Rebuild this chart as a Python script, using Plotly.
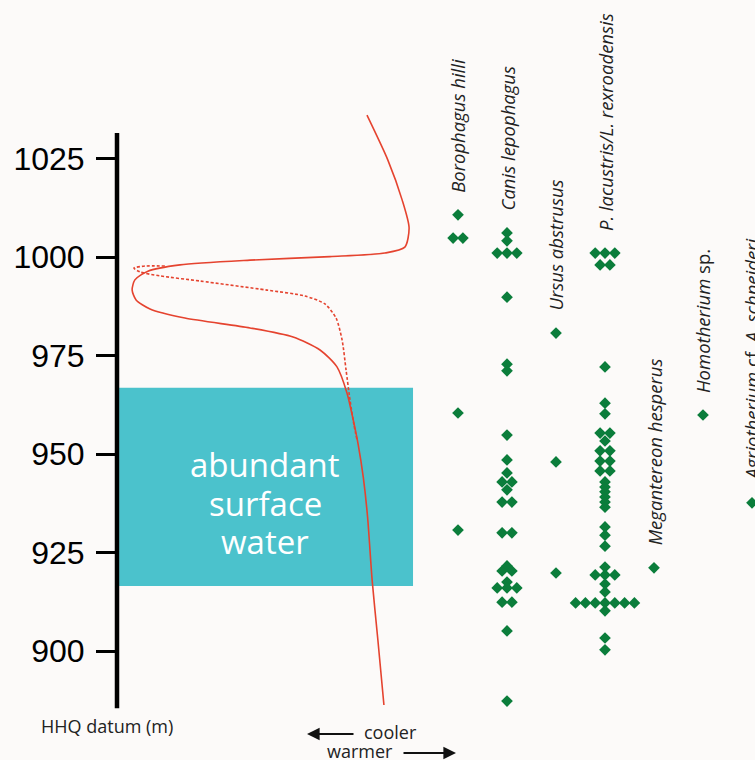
import plotly.graph_objects as go
from collections import Counter

# ---------------- data ----------------
ELEV_TICKS = [900, 925, 950, 975, 1000, 1025]
AXIS_BOTTOM, AXIS_TOP = 885.5, 1031.5
WATER_TOP, WATER_BOTTOM = 966.8, 916.5

SPECIES = [
    "<i>Borophagus hilli</i>",
    "<i>Canis lepophagus</i>",
    "<i>Ursus abstrusus</i>",
    "<i>P. lacustris/L. rexroadensis</i>",
    "<i>Megantereon hesperus</i>",
    "<i>Homotherium</i> sp.",
    "<i>Agriotherium</i> cf. <i>A. schneideri</i>",
]

BOROPHAGUS = [1010.7, 1004.8, 1004.8, 960.4, 930.7]
CANIS = [1006.1, 1004.1, 1001.0, 1001.0, 1001.0, 989.8, 972.8, 971.1, 954.8,
         948.5, 945.2, 942.9, 942.9, 940.9, 937.8, 937.8, 930.0, 930.0,
         921.6, 920.3, 920.3, 917.5, 916.0, 916.0, 916.0, 912.4, 912.4,
         905.1, 887.3]
URSUS = [980.7, 948.0, 919.8]
PLACUSTRIS = [1001.0, 1001.0, 1001.0, 998.0, 998.0, 972.1, 962.9, 960.2,
              955.3, 955.3, 953.3, 950.8, 950.8, 948.2, 948.2, 945.7, 945.7,
              942.9, 941.6, 940.4, 939.1, 937.8, 936.5, 931.5, 929.4, 926.6,
              921.3, 919.3, 919.3, 919.3, 917.0, 915.0,
              912.2, 912.2, 912.2, 912.2, 912.2, 912.2, 912.2,
              910.2, 903.3, 900.3]
MEGANTEREON = [921.1]
HOMOTHERIUM = [959.9]
AGRIOTHERIUM = [937.6]
OCCURRENCES = [BOROPHAGUS, CANIS, URSUS, PLACUSTRIS, MEGANTEREON, HOMOTHERIUM, AGRIOTHERIUM]

# relative temperature (arbitrary units, warmer to the right) vs elevation
TEMP_SOLID = [8.25, 8.94, 9.41, 9.64, 9.50, 8.84, 7.03, 4.39, 2.08, 1.02, 0.59,
              0.50, 0.63, 1.09, 2.24, 4.39, 5.81, 6.70, 7.26, 7.59, 7.77, 7.96,
              8.13, 8.27, 8.42, 8.61, 8.81]
ELEV_SOLID = [1036.0, 1024.6, 1014.5, 1007.4, 1002.5, 1001.0, 1000.1, 999.2,
              998.0, 996.4, 994.2, 991.6, 989.1, 986.8, 984.5, 982.0, 979.7,
              976.4, 972.1, 965.5, 959.6, 952.4, 944.0, 934.0, 918.0, 902.8, 886.3]
TEMP_DASHED = [1.58, 0.92, 0.56, 0.76, 1.42, 2.74, 4.95, 6.20, 6.86, 7.23,
               7.43, 7.56, 7.69, 7.82, 7.92]
ELEV_DASHED = [997.7, 997.7, 997.2, 996.2, 995.2, 993.9, 991.6, 990.1, 988.1,
               984.5, 978.9, 971.3, 963.7, 957.4, 953.6]

# ---------------- layout helpers ----------------
W, H = 755, 760
LEFT = 117
PX_PER_M = 3.94
Y_AT_1000 = 257
Y_RANGE = [1000 - (H - Y_AT_1000) / PX_PER_M, 1000 + Y_AT_1000 / PX_PER_M]
PLOT_W = W - LEFT
SPLIT = (420 - LEFT) / PLOT_W
STEP = 0.2
RED = "#e5432f"
GREEN = "#0b7d3b"
TEAL = "#4bc2cc"
BG = "#fcfaf9"


def px(xp):
    return (xp - LEFT) / PLOT_W


def py(yp):
    return 1 - yp / H


fig = go.Figure()

fig.add_shape(type="rect", xref="x", yref="y", x0=0.07, x1=9.77,
              y0=WATER_BOTTOM, y1=WATER_TOP, fillcolor=TEAL, line_width=0,
              layer="below")

fig.add_trace(go.Scatter(x=TEMP_SOLID, y=ELEV_SOLID, mode="lines",
                         line=dict(color=RED, width=1.6, shape="spline", smoothing=0.7),
                         xaxis="x", yaxis="y", hoverinfo="skip"))
fig.add_trace(go.Scatter(x=TEMP_DASHED, y=ELEV_DASHED, mode="lines",
                         line=dict(color=RED, width=1.6, dash="3px,2px", shape="spline", smoothing=0.7),
                         xaxis="x", yaxis="y", hoverinfo="skip"))

annotations = []
for i, (name, elevs) in enumerate(zip(SPECIES, OCCURRENCES)):
    xs, ys = [], []
    for e, n in Counter(elevs).items():
        for k in range(n):
            xs.append(i + (k - (n - 1) / 2) * STEP)
            ys.append(e)
    fig.add_trace(go.Scatter(x=xs, y=ys, mode="markers", xaxis="x2", yaxis="y",
                             marker=dict(symbol="diamond", size=9, color=GREEN,
                                         line=dict(width=0)),
                             cliponaxis=False, hoverinfo="skip"))
    annotations.append(dict(x=i, y=max(elevs), xref="x2", yref="y", text=name,
                            textangle=-90, showarrow=False, xanchor="center",
                            yanchor="bottom", yshift=20,
                            font=dict(family="Open Sans", size=18.5, color="#222")))

# axis line
fig.add_shape(type="line", xref="paper", yref="y", x0=0, x1=0,
              y0=AXIS_BOTTOM, y1=AXIS_TOP, line=dict(color="black", width=4.5))

txt = dict(family="Open Sans", color="#222", size=18)
annotations += [
    dict(x=px(107), y=py(726), xref="paper", yref="paper", text="HHQ datum (m)",
         showarrow=False, font=txt, xanchor="center", yanchor="middle"),
    dict(x=px(390), y=py(732), xref="paper", yref="paper", text="cooler",
         showarrow=False, font=txt, xanchor="center", yanchor="middle"),
    dict(x=px(360), y=py(751), xref="paper", yref="paper", text="warmer",
         showarrow=False, font=txt, xanchor="center", yanchor="middle"),
    dict(x=px(307), y=py(734), xref="paper", yref="paper", text="", ax=48, ay=0,
         showarrow=True, arrowhead=2, arrowsize=1.4, arrowwidth=1.8, arrowcolor="#111"),
    dict(x=px(456), y=py(753), xref="paper", yref="paper", text="", ax=-54, ay=0,
         showarrow=True, arrowhead=2, arrowsize=1.4, arrowwidth=1.8, arrowcolor="#111"),
]
wt = dict(family="Open Sans", color="white", size=33)
for word, yp in [("abundant", 465), ("surface", 503), ("water", 541)]:
    annotations.append(dict(x=px(265), y=py(yp), xref="paper", yref="paper",
                            text=word, showarrow=False, font=wt,
                            xanchor="center", yanchor="middle"))

fig.update_layout(
    width=W, height=H,
    margin=dict(l=LEFT, r=0, t=0, b=0),
    paper_bgcolor=BG, plot_bgcolor=BG,
    showlegend=False,
    xaxis=dict(domain=[0, SPLIT], range=[0, 10], visible=False),
    xaxis2=dict(domain=[SPLIT, 1], range=[(420 - 458) / 49, (755 - 458) / 49],
                visible=False),
    yaxis=dict(range=Y_RANGE, tickvals=ELEV_TICKS, ticks="outside", ticklen=20,
               tickwidth=3, tickcolor="black", showline=False, showgrid=False,
               zeroline=False, ticklabelstandoff=5,
               tickfont=dict(family="Liberation Sans", size=32, color="black")),
    annotations=annotations,
)

fig.write_html(
    "out.html",
    config={"displayModeBar": False, "staticPlot": True},
    post_script="document.body.style.margin='0';document.body.style.background='"
    + BG + "';document.body.style.overflow='hidden';",
)
